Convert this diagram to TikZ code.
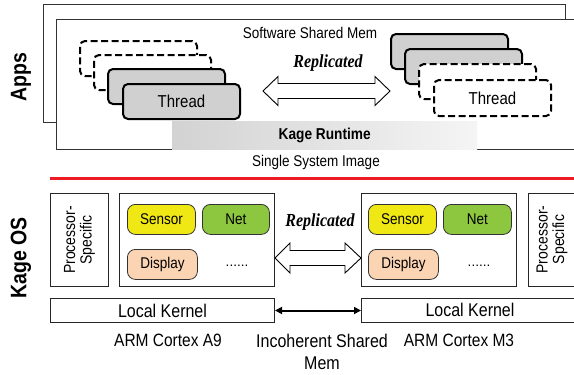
\documentclass[tikz,border=0pt]{standalone}
\usepackage{fontspec}
\setmainfont{Liberation Sans}
\newfontfamily\serifbi{Liberation Serif}
\usetikzlibrary{arrows.meta}
\definecolor{sensorc}{RGB}{240,232,20}
\definecolor{netc}{RGB}{141,198,63}
\definecolor{dispc}{RGB}{251,212,180}
\definecolor{threadc}{RGB}{208,208,208}
\definecolor{redline}{RGB}{237,28,36}
\newcommand{\vs}[1]{\scalebox{1}[1.15]{#1}}
\begin{document}
\begin{tikzpicture}[x=1pt,y=-1pt,
  frame/.style={draw=black!80,line width=1pt,fill=white},
  thr/.style={draw=black,line width=2pt,rounded corners=5pt,minimum width=117pt,minimum height=35pt,anchor=north west,inner sep=0pt,font=\fontsize{15}{17}\selectfont},
  thrg/.style={thr,fill=threadc},
  thrd/.style={thr,fill=white,dash pattern=on 7pt off 3.5pt},
  comp/.style={draw=black!80,line width=0.8pt,rounded corners=8pt,minimum height=30pt,anchor=north west,inner sep=0pt,font=\fontsize{13.5}{15}\selectfont},
  plain/.style={draw=black!85,line width=1pt,anchor=north west,inner sep=0pt},
  lbl/.style={inner sep=0pt,font=\fontsize{13.5}{15}\selectfont},
  side/.style={inner sep=0pt,rotate=90,font=\bfseries\fontsize{19.5}{21}\selectfont},
  repl/.style={inner sep=0pt,font=\serifbi\bfseries\itshape\fontsize{16}{18}\selectfont},
  harrow/.style={draw=black,line width=0.9pt,fill=white}
]
\clip (0,0) rectangle (574,375);
% Apps frames
\node[frame,minimum width=522pt,minimum height=118pt,anchor=north west,inner sep=0pt] (appsback) at (43,4) {};
\node[frame,minimum width=524pt,minimum height=130pt,anchor=north west,inner sep=0pt] (appsfront) at (56,19) {};
\node[inner sep=0pt,minimum width=305pt,minimum height=28pt,anchor=north west,left color=gray!35,right color=gray!8,font=\bfseries\fontsize{13.7}{15}\selectfont] (runtime) at (172,121) {\vs{Kage Runtime}};
\node[lbl] (ssm) at (310,33) {\vs{Software Shared Mem}};
\node[lbl] (ssi) at (316,162) {\vs{Single System Image}};
\node[side] (apps) at (21,77) {\vs{Apps}};
% left threads
\node[thrd] (l1) at (79,40) {};
\node[thrd] (l2) at (93,54) {};
\node[thrg] (l3) at (107,68) {};
\node[thrg] (l4) at (122,83) {\vs{Thread}};
% right threads
\node[thrg] (r1) at (390,33) {};
\node[thrg] (r2) at (404,48) {};
\node[thrd] (r3) at (418,63) {};
\node[thrd,minimum height=36pt] (r4) at (433,79) {\vs{Thread}};
% top replicated arrow
\node[repl] (rep1) at (328,63) {\vs{Replicated}};
\draw[harrow] (263,91) -- (278,76.5) -- (278,83.5) -- (375,83.5) -- (375,76.5) -- (390,91) -- (375,105.5) -- (375,98.5) -- (278,98.5) -- (278,105.5) -- cycle;
% red separator
\coordinate (redL) at (50,178);
\coordinate (redR) at (574,178);
\draw[redline,line width=3pt] (redL) -- (redR);
% Kage OS
\node[side] (kos) at (21,258) {\vs{Kage OS}};
\node[plain,minimum width=58pt,minimum height=93pt] (lps) at (50,193) {};
\node[inner sep=0pt,rotate=90,align=center,font=\fontsize{14}{16.5}\selectfont] at (lps.center) {\vs{Processor-}\\\vs{Specific}};
\node[plain,minimum width=155pt,minimum height=93pt] (lmain) at (119,193) {};
\node[comp,fill=sensorc,minimum width=68pt] (ls) at (127,204) {\vs{Sensor}};
\node[comp,fill=netc,minimum width=67pt] (ln) at (202,204) {\vs{Net}};
\node[comp,fill=dispc,minimum width=70pt] (ld) at (127,249) {\vs{Display}};
\node[lbl] (ldots) at (237,266) {......};
\node[plain,minimum width=224pt,minimum height=24pt,font=\fontsize{16}{18}\selectfont] (lk) at (50,298) {\vs{Local Kernel}};
\node[lbl,font=\fontsize{15.5}{17}\selectfont] (arm9) at (168,340) {\vs{ARM Cortex A9}};
% right side
\node[plain,minimum width=155pt,minimum height=93pt] (rmain) at (361,193) {};
\node[comp,fill=sensorc,minimum width=68pt] (rs) at (368,204) {\vs{Sensor}};
\node[comp,fill=netc,minimum width=68pt] (rn) at (443,204) {\vs{Net}};
\node[comp,fill=dispc,minimum width=70pt] (rd) at (368,249) {\vs{Display}};
\node[lbl] (rdots) at (479,266) {......};
\node[plain,minimum width=50pt,minimum height=93pt] (rps) at (528,193) {};
\node[inner sep=0pt,rotate=90,align=center,font=\fontsize{14}{16.5}\selectfont] at (552,239.5) {\vs{Processor-}\\\vs{Specific}};
\node[plain,minimum width=218pt,minimum height=24pt] (rk) at (361,298) {};
\node[inner sep=0pt,font=\fontsize{16}{18}\selectfont] at (470,310) {\vs{Local Kernel}};
\node[lbl,font=\fontsize{15.5}{17}\selectfont] (armm3) at (459,340) {\vs{ARM Cortex M3}};
% middle replicated arrow
\node[repl] (rep2) at (320,222) {\vs{Replicated}};
\draw[harrow] (lmain.east |- 0,258) -- (290,243) -- (290,250.5) -- (345,250.5) -- (345,243) -- (rmain.west |- 0,258) -- (345,273) -- (345,265.5) -- (290,265.5) -- (290,273) -- cycle;
% incoherent shared memory
\draw[line width=2pt,{Triangle[length=7pt,width=7pt]}-{Triangle[length=7pt,width=7pt]}] (lk.east) -- (rk.west);
\node[inner sep=0pt,align=center,font=\fontsize{16}{22}\selectfont] (ism) at (322,352) {\vs{Incoherent Shared}\\\vs{Mem}};
\end{tikzpicture}
\end{document}
